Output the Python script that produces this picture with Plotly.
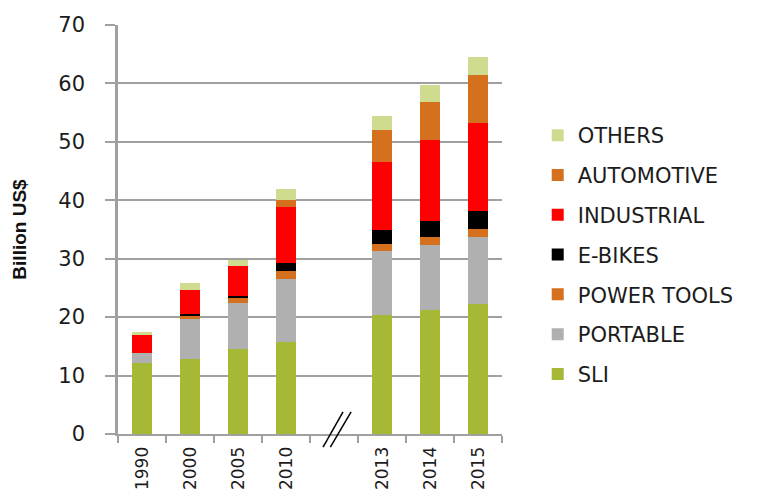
import plotly.graph_objects as go

# categories, with an empty slot where the axis break sits
years = ["1990", "2000", "2005", "2010", " ", "2013", "2014", "2015"]

sli = [12.1, 12.8, 14.5, 15.8, None, 20.3, 21.3, 22.3]
portable = [1.8, 6.9, 8.0, 10.8, None, 11.0, 11.0, 11.4]
power_tools = [0.0, 0.6, 0.7, 1.3, None, 1.3, 1.5, 1.4]
e_bikes = [0.0, 0.3, 0.5, 1.3, None, 2.3, 2.6, 3.0]
industrial = [3.0, 4.0, 5.05, 9.7, None, 11.7, 13.9, 15.2]
automotive = [0.0, 0.0, 0.0, 1.1, None, 5.4, 6.6, 8.1]
others = [0.5, 1.2, 1.05, 2.0, None, 2.5, 2.8, 3.1]

series = [
    ("SLI", sli, "#a6b836"),
    ("PORTABLE", portable, "#b0b0b0"),
    ("POWER TOOLS", power_tools, "#d5701e"),
    ("E-BIKES", e_bikes, "#000000"),
    ("INDUSTRIAL", industrial, "#ff0000"),
    ("AUTOMOTIVE", automotive, "#d5701e"),
    ("OTHERS", others, "#cfdc90"),
]

text_font = dict(family="DejaVu Sans", size=21, color="#1c1c1c")
axis_grey = "#a0a0a0"

fig = go.Figure()

for i, (name, values, colour) in enumerate(series):
    fig.add_trace(go.Bar(
        x=years,
        y=values,
        name=name,
        legendgroup=name,
        legendrank=100 - i,
        marker=dict(color=colour, line=dict(width=0)),
    ))

# the "//" axis break
for x0, x1 in [(0.534, 0.586), (0.553, 0.607)]:
    fig.add_shape(type="line", xref="paper", yref="paper",
                  x0=x0, x1=x1, y0=-0.032, y1=0.054,
                  line=dict(color="#000000", width=1.5))

fig.update_layout(
    width=777,
    height=493,
    margin=dict(l=110, r=283, t=17, b=67, autoexpand=False),
    paper_bgcolor="white",
    plot_bgcolor="white",
    barmode="stack",
    bargap=0.58,
    font=text_font,
    showlegend=True,
    legend=dict(
        traceorder="grouped",
        tracegroupgap=9.5,
        x=1.093,
        xanchor="left",
        y=0.78,
        yanchor="top",
        font=text_font,
        bgcolor="rgba(0,0,0,0)",
    ),
    xaxis=dict(
        type="category",
        tickson="boundaries",
        ticks="outside",
        ticklen=7,
        tickwidth=1.5,
        tickcolor=axis_grey,
        tickangle=-90,
        showline=True,
        linecolor=axis_grey,
        linewidth=2,
        showgrid=False,
        tickfont=dict(family="DejaVu Sans", size=17, color="#1c1c1c"),
        ticklabelstandoff=4,
        automargin=False,
    ),
    yaxis=dict(
        range=[0, 70],
        dtick=10,
        ticks="outside",
        ticklen=10,
        tickwidth=1.5,
        tickcolor=axis_grey,
        showline=True,
        linecolor=axis_grey,
        linewidth=2.5,
        showgrid=True,
        gridcolor=axis_grey,
        gridwidth=1.5,
        zeroline=False,
        tickfont=text_font,
        ticklabelstandoff=16,
        automargin=False,
        title=dict(
            text="Billion US$",
            font=dict(family="Liberation Sans", size=19, color="#111111", weight="bold"),
            standoff=27,
        ),
    ),
)

fig.write_html("out.html")
